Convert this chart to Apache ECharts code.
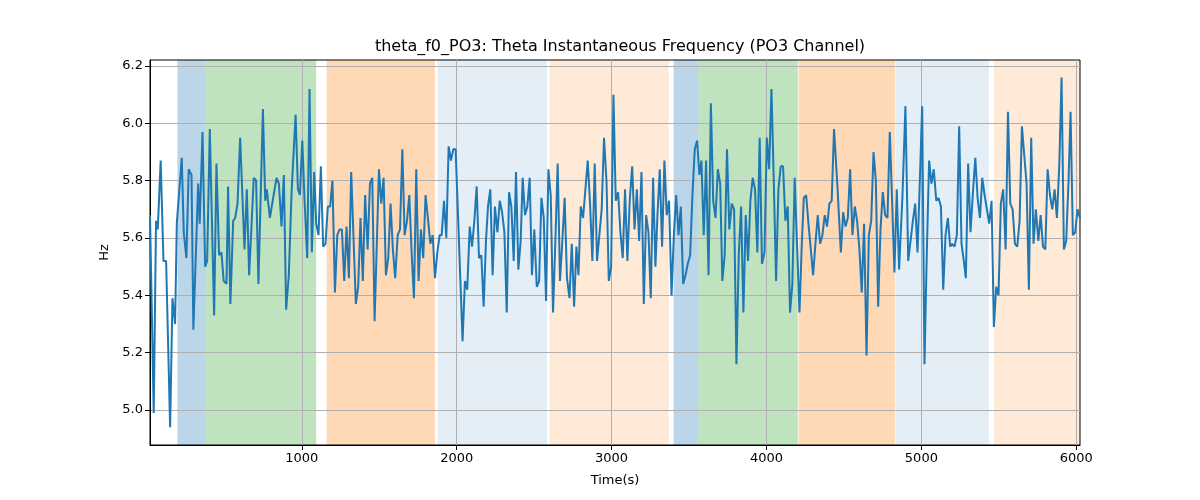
<!DOCTYPE html>
<html><head><meta charset="utf-8">
<script src="https://cdn.jsdelivr.net/npm/echarts@6/dist/echarts.min.js"></script>
<style>html,body{margin:0;padding:0;background:#fff}#c{width:1200px;height:500px}</style>
</head><body><div id="c"></div>
<script>
const times = [
20,44,59,70,89,107,124,150,165,182,193,225,238,255,270,288,300,331,341,359,376,389,406,434,449,466,481,496,514,524,539,557,570,585,602,630,645,660,690,705,720,
749,764,774,794,809,837,852,869,884,899,916,934,960,975,988,1003,1018,1035,1050,1065,1080,1093,1108,1123,1138,1153,1168,1183,1198,1214,1229,1244,1259,1274,1289,1304,1319,1349,1364,1379,1394,1409,1425,1440,1455,1470,
1498,1513,1528,1543,1558,1573,1588,1603,1619,1634,1649,1664,1679,1694,1709,1724,1739,1754,1769,1784,1799,1814,1830,1845,1860,1875,1890,1903,1918,1933,1948,1963,1978,1993,2038,2053,2068,2084,2099,2114,2129,2144,2159,2174,2189,2202,2217,
2232,2247,2263,2278,2293,2308,2323,2338,2353,2368,2383,2398,2413,2426,2441,2456,2471,2486,2501,2517,2532,2547,2562,2577,2592,2607,2622,2637,2652,2667,2682,2697,2712,2728,2743,2758,2773,2786,2801,2816,2831,2846,2861,2876,2891,2906,2921,2936,2951,
2967,2982,2997,3012,3027,3042,3057,3072,3087,3102,3117,3133,3148,3163,3178,3193,3208,3223,3238,3253,3268,3283,3296,3311,3326,3341,3356,3371,3387,3402,3417,3432,3447,3462,3477,3492,3507,3522,3537,3552,3567,3580,3595,3610,3626,3641,3656,3671,3686,3701,
3715,3730,3745,3760,3776,3791,3806,3821,3836,3851,3866,3881,3896,3911,3926,3941,3956,3971,3987,4002,4017,4032,4047,4062,4077,4092,4107,4122,4137,4152,4167,4182,4197,4213,4228,4241,4256,4271,4286,4301,4316,4331,4346,4361,4376,4391,4406,4421,4436,
4458,4480,4495,4510,4525,4540,4555,4570,4585,4600,4615,4630,4646,4661,4676,4691,4706,4721,4736,4751,4766,4781,4796,4811,4826,4841,4856,4878,4897,4915,4930,4945,4960,4975,4990,5005,5020,5035,5050,5065,5080,5096,5111,5126,5141,5156,5171,5186,
5199,5214,5229,5244,5259,5274,5287,5302,5317,5333,5348,5363,5378,5393,5408,5423,5438,5453,5468,5483,5498,5513,5528,5544,5559,5574,5589,5604,5619,5634,5649,5664,5679,5694,5709,5724,5739,5755,5770,5785,5800,5815,5830,5845,5860,5875,5890,5905,5920,5935,5950,5963,5978,5993,6008,6024
];
const hz = [
5.68,4.99,5.66,5.63,5.87,5.52,5.52,4.94,5.39,5.30,5.65,5.88,5.62,5.53,5.84,5.82,5.28,5.79,5.65,5.97,5.50,5.52,5.98,5.33,5.86,5.54,5.55,5.45,5.44,5.78,5.37,5.66,5.67,5.72,5.95,5.56,5.77,5.47,5.81,5.80,5.44,
6.05,5.73,5.77,5.67,5.72,5.81,5.79,5.64,5.82,5.35,5.47,5.76,6.03,5.77,5.75,5.94,5.73,5.53,6.12,5.55,5.83,5.65,5.61,5.85,5.57,5.58,5.71,5.71,5.80,5.41,5.61,5.63,5.63,5.45,5.64,5.46,5.83,5.37,5.43,5.67,5.45,5.75,5.56,5.79,5.81,5.31,
5.84,5.72,5.81,5.47,5.53,5.72,5.56,5.46,5.61,5.63,5.91,5.61,5.66,5.75,5.55,5.39,5.84,5.45,5.63,5.53,5.75,5.67,5.58,5.61,5.46,5.55,5.61,5.61,5.73,5.60,5.92,5.87,5.91,5.91,5.24,5.45,5.42,5.64,5.57,5.66,5.78,5.53,5.54,5.36,5.59,5.71,5.77,
5.47,5.71,5.62,5.73,5.69,5.62,5.34,5.76,5.71,5.52,5.83,5.49,5.59,5.81,5.68,5.71,5.81,5.47,5.63,5.43,5.45,5.74,5.67,5.38,5.84,5.75,5.34,5.59,5.86,5.45,5.59,5.74,5.46,5.39,5.58,5.36,5.57,5.47,5.71,5.67,5.77,5.87,5.72,5.52,5.86,5.52,5.61,5.70,5.95,
5.80,5.45,5.50,6.10,5.73,5.76,5.62,5.53,5.77,5.52,5.73,5.85,5.63,5.77,5.59,5.83,5.37,5.68,5.62,5.39,5.81,5.50,5.68,5.84,5.57,5.87,5.68,5.73,5.40,5.61,5.75,5.61,5.71,5.44,5.47,5.51,5.54,5.75,5.91,5.94,5.82,5.87,5.61,5.87,5.47,6.07,5.73,5.67,5.84,5.79,
5.45,5.54,5.91,5.63,5.72,5.70,5.16,5.54,5.71,5.34,5.68,5.52,5.73,5.81,5.77,5.55,5.95,5.51,5.55,5.95,5.84,6.12,5.80,5.45,5.77,5.85,5.85,5.66,5.71,5.34,5.44,5.81,5.58,5.34,5.58,5.74,5.75,5.65,5.56,5.47,5.58,5.68,5.58,5.61,5.68,5.64,5.72,5.73,5.98,
5.78,5.55,5.69,5.64,5.67,5.84,5.61,5.71,5.66,5.56,5.41,5.65,5.19,5.61,5.66,5.90,5.80,5.36,5.63,5.76,5.68,5.67,5.97,5.73,5.48,5.77,5.49,5.75,6.06,5.52,5.59,5.66,5.72,5.55,5.80,6.06,5.16,5.55,5.87,5.79,5.84,5.73,5.74,5.71,5.42,5.61,5.67,5.57,
5.58,5.57,5.61,5.99,5.58,5.52,5.46,5.86,5.62,5.76,5.88,5.74,5.67,5.81,5.75,5.70,5.65,5.73,5.29,5.43,5.40,5.72,5.77,5.56,6.04,5.72,5.70,5.58,5.57,5.66,5.99,5.89,5.79,5.42,5.95,5.58,5.70,5.59,5.68,5.57,5.56,5.84,5.75,5.70,5.77,5.67,5.85,6.16,5.56,5.59,5.80,6.04,5.61,5.62,5.70,5.67
];
// shaded spans: start, end, kind
const spanStarts = [197, 376, 1160, 1877, 2600, 3401, 3561, 4207, 4833, 5468];
const spanEnds   = [376, 1093, 1859, 2583, 3369, 3561, 4202, 4829, 5436, 6024];
const spanKinds  = ['blue','green','orange','lightblue','lightorange','blue','green','orange','lightblue','lightorange'];
const xTicks = [1000, 2000, 3000, 4000, 5000, 6000];
const yTicks = [5.0, 5.2, 5.4, 5.6, 5.8, 6.0, 6.2];
const titleText = 'theta_f0_PO3: Theta Instantaneous Frequency (PO3 Channel)';

const kindColor = {
  blue: 'rgba(31,119,180,0.3)',
  green: 'rgba(44,160,44,0.3)',
  orange: 'rgba(255,127,14,0.3)',
  lightblue: 'rgba(31,119,180,0.12)',
  lightorange: 'rgba(255,127,14,0.16)'
};

const data = times.map((t, i) => [t, hz[i]]);
const areas = spanStarts.map((s, i) => [
  {xAxis: s, itemStyle: {color: kindColor[spanKinds[i]]}},
  {xAxis: spanEnds[i]}
]);

const font = 'DejaVu Sans';
const chart = echarts.init(document.getElementById('c'), null, {renderer: 'canvas'});
chart.setOption({
  animation: false,
  backgroundColor: '#fff',
  title: {
    text: titleText, left: 615, top: 34, textAlign: 'center',
    textStyle: {fontFamily: font, fontSize: 16, fontWeight: 'normal', color: '#000'}
  },
  grid: {left: 150, right: 120, top: 60, bottom: 55, show: true, borderColor: '#000', borderWidth: 1, backgroundColor: 'transparent', z: 1},
  xAxis: {
    type: 'value', min: times[0], max: times[times.length - 1], z: 1,
    name: 'Time(s)', nameLocation: 'middle', nameGap: 29,
    nameTextStyle: {fontFamily: font, fontSize: 13, color: '#000'},
    axisLine: {show: true, onZero: false, lineStyle: {color: '#000', width: 1}},
    axisTick: {show: true, length: 5, lineStyle: {color: '#000'}, customValues: xTicks},
    axisLabel: {fontFamily: font, fontSize: 13, color: '#000', margin: 7, customValues: xTicks,
      formatter: v => String(Math.round(v))},
    splitLine: {show: true, lineStyle: {color: '#b0b0b0', width: 1}}
  },
  yAxis: {
    type: 'value', min: 4.878, max: 6.221, z: 1,
    name: 'Hz', nameLocation: 'middle', nameGap: 38,
    nameTextStyle: {fontFamily: font, fontSize: 13, color: '#000'},
    axisLine: {show: true, onZero: false, lineStyle: {color: '#000', width: 1}},
    axisTick: {show: true, length: 5, lineStyle: {color: '#000'}, customValues: yTicks},
    axisLabel: {fontFamily: font, fontSize: 13, color: '#000', margin: 7, customValues: yTicks,
      formatter: v => Number(v).toFixed(1)},
    splitLine: {show: true, lineStyle: {color: '#b0b0b0', width: 1}}
  },
  series: [
    {
      type: 'line', data: [], z: 0, silent: true,
      markArea: {silent: true, data: areas, z: 0}
    },
    {
      type: 'line', data: data, showSymbol: false, symbol: 'none',
      lineStyle: {color: '#1f77b4', width: 2},
      clip: true, z: 3
    }
  ]
});
</script></body></html>
